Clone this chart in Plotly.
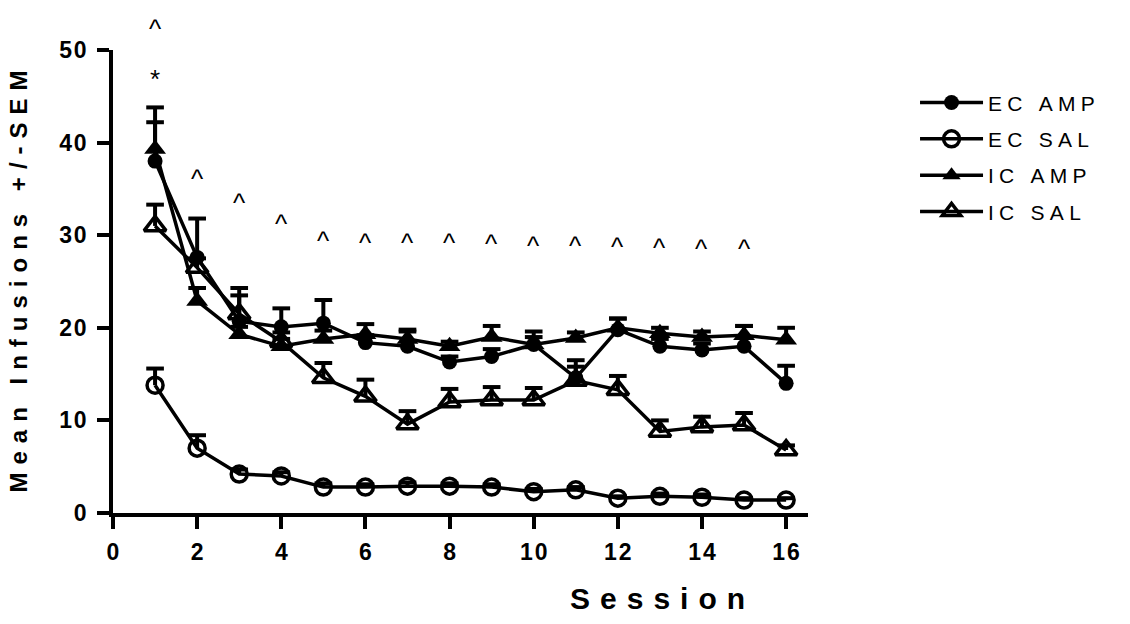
import plotly.graph_objects as go

sessions = list(range(1, 17))

ec_amp = [38.0, 27.6, 20.7, 20.1, 20.5, 18.4, 18.0, 16.3, 16.9, 18.2, 14.6, 19.8, 18.0, 17.6, 18.0, 14.0]
ec_amp_sem = [5.8, 4.2, 3.6, 2.0, 2.5, 0.8, 1.6, 0.6, 0.8, 1.4, 1.9, 1.2, 0.8, 0.7, 2.2, 1.9]

ec_sal = [13.8, 7.0, 4.2, 4.0, 2.8, 2.8, 2.9, 2.9, 2.8, 2.3, 2.5, 1.6, 1.8, 1.7, 1.4, 1.4]
ec_sal_sem = [1.8, 1.4, 0.5, 0.4, 0.4, 0.3, 0.4, 0.3, 0.3, 0.3, 0.3, 0.2, 0.3, 0.3, 0.2, 0.2]

ic_amp = [39.3, 22.9, 19.3, 18.0, 18.8, 19.3, 18.8, 18.0, 19.0, 18.2, 18.9, 20.0, 19.4, 19.0, 19.2, 18.7]
ic_amp_sem = [2.9, 1.4, 0.8, 0.8, 0.9, 1.1, 1.0, 0.5, 1.2, 0.8, 0.6, 1.0, 0.6, 0.6, 1.0, 1.3]

ic_sal = [31.0, 26.5, 21.5, 18.5, 14.6, 12.6, 9.6, 12.0, 12.2, 12.2, 14.3, 13.3, 8.8, 9.3, 9.5, 6.8]
ic_sal_sem = [2.3, 1.0, 2.0, 1.0, 1.6, 1.8, 1.4, 1.4, 1.4, 1.3, 1.5, 1.5, 1.2, 1.1, 1.3, 0.5]

# significance markers: (session, height, symbol)
sig_sessions = [1, 1, 2, 3, 4, 5, 6, 7, 8, 9, 10, 11, 12, 13, 14, 15]
sig_heights = [52.9, 47.5, 36.7, 34.1, 31.9, 30.0, 29.8, 29.8, 29.8, 29.7, 29.5, 29.5, 29.4, 29.3, 29.2, 29.2]
sig_texts = ["^", "*", "^", "^", "^", "^", "^", "^", "^", "^", "^", "^", "^", "^", "^", "^"]

x_ticks = [0, 2, 4, 6, 8, 10, 12, 14, 16]
y_ticks = [0, 10, 20, 30, 40, 50]
Y_MAX = 50
X_MAX = 16.52

FONT = "Arial, Liberation Sans, sans-serif"


def spaced(text, sep):
    out = []
    for i, ch in enumerate(text):
        out.append(ch)
        if i < len(text) - 1:
            out.append(sep)
    return "".join(out)


def err_path(xs, ys, sems, cw=0.21):
    px, py = [], []
    for x, y, s in zip(xs, ys, sems):
        top = y + s
        px += [x, x, None, x - cw, x + cw, None]
        py += [y, top, None, top, top, None]
    return px, py


series = [
    ("EC AMP", ec_amp, ec_amp_sem, dict(symbol="circle", size=15, color="black",
                                         line=dict(color="black", width=0))),
    ("EC SAL", ec_sal, ec_sal_sem, dict(symbol="circle-open", size=16, color="black",
                                         line=dict(color="black", width=3.5))),
    ("IC AMP", ic_amp, ic_amp_sem, dict(symbol="triangle-up", size=19, color="black",
                                         line=dict(color="black", width=0))),
    ("IC SAL", ic_sal, ic_sal_sem, dict(symbol="triangle-up-open", size=19, color="black",
                                         line=dict(color="black", width=3.5))),
]

fig = go.Figure()

for name, ys, sems, mk in series:
    ex, ey = err_path(sessions, ys, sems)
    fig.add_trace(go.Scatter(x=ex, y=ey, mode="lines", line=dict(color="black", width=4),
                             showlegend=False, hoverinfo="skip", cliponaxis=False))

for i, (name, ys, sems, mk) in enumerate(series):
    fig.add_trace(go.Scatter(
        x=sessions, y=ys, mode="lines+markers", name=spaced(name, "\u2005"),
        line=dict(color="black", width=3.5), marker=mk, cliponaxis=False,
        legendgroup=f"g{i}",
    ))

annotations = []
for s, h, t in zip(sig_sessions, sig_heights, sig_texts):
    annotations.append(dict(
        x=s, y=h / Y_MAX, xref="x", yref="paper", text=t, showarrow=False,
        xanchor="center", yanchor="middle", yshift=-6,
        font=dict(family=FONT, size=26, color="black"),
    ))

annotations.append(dict(
    x=0.783, y=-0.184, xref="paper", yref="paper", showarrow=False,
    text="<b>" + spaced("Session", "\u2004") + "</b>",
    xanchor="center", yanchor="middle",
    font=dict(family=FONT, size=30, color="black"),
))

fig.update_layout(
    width=1130, height=624,
    margin=dict(l=113, r=322, t=50, b=111, autoexpand=False),
    paper_bgcolor="white", plot_bgcolor="white",
    showlegend=True,
    legend=dict(
        x=1.154, y=0.93, xanchor="left", yanchor="top",
        font=dict(family=FONT, size=21, color="black"),
        tracegroupgap=6, traceorder="grouped",
        bgcolor="rgba(0,0,0,0)", itemwidth=63,
    ),
    annotations=annotations,
    xaxis=dict(
        range=[0, X_MAX], showgrid=False, zeroline=False,
        showline=True, linecolor="black", linewidth=3.5,
        ticks="outside", ticklen=12, tickwidth=3.5, tickcolor="black",
        tickvals=x_ticks, ticktext=[spaced(str(v), "\u200a") for v in x_ticks],
        tickfont=dict(family=FONT, size=23, color="black", weight="bold"),
        ticklabelstandoff=4,
    ),
    yaxis=dict(
        range=[0, Y_MAX], showgrid=False, zeroline=False,
        showline=True, linecolor="black", linewidth=3.5,
        ticks="outside", ticklen=12, tickwidth=3.5, tickcolor="black",
        tickvals=y_ticks, ticktext=[spaced(str(v), "\u200a") for v in y_ticks],
        tickfont=dict(family=FONT, size=23, color="black", weight="bold"),
        ticklabelstandoff=6,
        title=dict(text="<b>" + spaced("Mean Infusions +/-SEM", "\u2004") + "</b>",
                   font=dict(family=FONT, size=24, color="black"), standoff=26),
    ),
)

fig.write_html("out.html")
